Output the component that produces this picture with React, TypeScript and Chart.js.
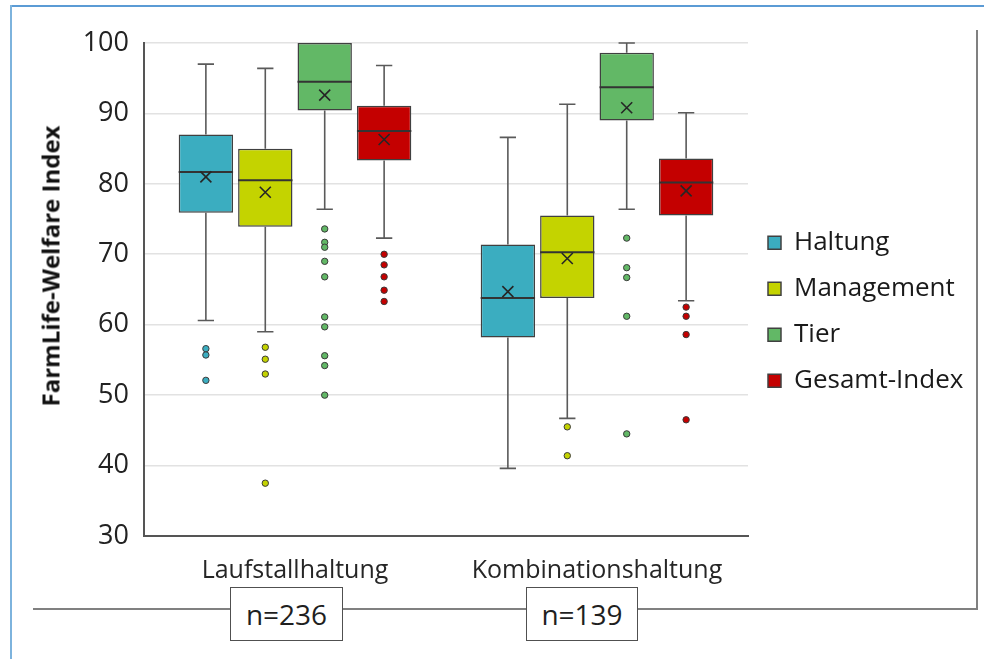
import React, { useEffect, useRef } from "react";
import { Chart, registerables } from "chart.js";

Chart.register(...registerables);

const categories = ["Laufstallhaltung", "Kombinationshaltung"];
const sampleSizes = ["n=236", "n=139"];
const seriesNames = ["Haltung", "Management", "Tier", "Gesamt-Index"];
const seriesColors = ["#3BADC0", "#C4D300", "#62B866", "#C40000"];
const yTicks = [30, 40, 50, 60, 70, 80, 90, 100];

const haltungMin = [60.6, 39.6];
const haltungQ1 = [75.9, 58.2];
const haltungMedian = [81.7, 63.8];
const haltungQ3 = [87.0, 71.4];
const haltungMax = [97.0, 86.6];
const haltungMean = [81.0, 64.7];
const haltungOutliers = [[56.6, 55.7, 52.1], []];

const managementMin = [59.0, 46.7];
const managementQ1 = [73.9, 63.8];
const managementMedian = [80.5, 70.3];
const managementQ3 = [85.0, 75.5];
const managementMax = [96.4, 91.3];
const managementMean = [78.8, 69.4];
const managementOutliers = [[56.8, 55.1, 53.0, 37.5], [45.5, 41.4]];

const tierMin = [76.4, 76.4];
const tierQ1 = [90.4, 89.0];
const tierMedian = [94.5, 93.7];
const tierQ3 = [100, 98.6];
const tierMax = [100, 100];
const tierMean = [92.6, 90.8];
const tierOutliers = [
  [73.6, 71.7, 71.0, 69.0, 66.8, 61.1, 59.7, 55.6, 54.2, 50.0],
  [72.3, 68.1, 66.7, 61.2, 44.5],
];

const gesamtMin = [72.3, 63.4];
const gesamtQ1 = [83.3, 75.5];
const gesamtMedian = [87.5, 80.2];
const gesamtQ3 = [91.1, 83.6];
const gesamtMax = [96.8, 90.1];
const gesamtMean = [86.3, 79.0];
const gesamtOutliers = [[70.0, 68.5, 66.8, 64.9, 63.3], [62.5, 61.2, 58.6, 46.5]];

const FONT = "'Open Sans', 'DejaVu Sans', sans-serif";

type BoxStats = {
  min: number[];
  q1: number[];
  median: number[];
  q3: number[];
  max: number[];
  mean: number[];
  outliers: number[][];
};

const stats: BoxStats[] = [
  { min: haltungMin, q1: haltungQ1, median: haltungMedian, q3: haltungQ3, max: haltungMax, mean: haltungMean, outliers: haltungOutliers },
  { min: managementMin, q1: managementQ1, median: managementMedian, q3: managementQ3, max: managementMax, mean: managementMean, outliers: managementOutliers },
  { min: tierMin, q1: tierQ1, median: tierMedian, q3: tierQ3, max: tierMax, mean: tierMean, outliers: tierOutliers },
  { min: gesamtMin, q1: gesamtQ1, median: gesamtMedian, q3: gesamtQ3, max: gesamtMax, mean: gesamtMean, outliers: gesamtOutliers },
];

const whiskerPlugin = {
  id: "boxWhiskers",
  beforeDatasetsDraw(chart: any) {
    const ctx = chart.ctx;
    const y = chart.scales.y;
    ctx.save();
    ctx.strokeStyle = "#5a5a5a";
    ctx.lineWidth = 1.6;
    stats.forEach((s, di) => {
      const meta = chart.getDatasetMeta(di);
      meta.data.forEach((bar: any, i: number) => {
        const x = bar.x;
        const cap = bar.width * 0.3;
        const segs = [
          [s.q3[i], s.max[i]],
          [s.q1[i], s.min[i]],
        ];
        segs.forEach(([from, to]) => {
          if (from === to) return;
          const p0 = y.getPixelForValue(from);
          const p1 = y.getPixelForValue(to);
          ctx.beginPath();
          ctx.moveTo(x, p0);
          ctx.lineTo(x, p1);
          ctx.moveTo(x - cap / 2, p1);
          ctx.lineTo(x + cap / 2, p1);
          ctx.stroke();
        });
      });
    });
    ctx.restore();
  },
  afterDatasetsDraw(chart: any) {
    const ctx = chart.ctx;
    const y = chart.scales.y;
    ctx.save();
    stats.forEach((s, di) => {
      const meta = chart.getDatasetMeta(di);
      meta.data.forEach((bar: any, i: number) => {
        const x = bar.x;
        const half = bar.width / 2;
        const pm = y.getPixelForValue(s.median[i]);
        ctx.strokeStyle = "#333333";
        ctx.lineWidth = 2;
        ctx.beginPath();
        ctx.moveTo(x - half, pm);
        ctx.lineTo(x + half, pm);
        ctx.stroke();
        const pmean = y.getPixelForValue(s.mean[i]);
        const r = 5.5;
        ctx.strokeStyle = "#262626";
        ctx.lineWidth = 1.6;
        ctx.beginPath();
        ctx.moveTo(x - r, pmean - r);
        ctx.lineTo(x + r, pmean + r);
        ctx.moveTo(x + r, pmean - r);
        ctx.lineTo(x - r, pmean + r);
        ctx.stroke();
        s.outliers[i].forEach((v) => {
          const py = y.getPixelForValue(v);
          ctx.beginPath();
          ctx.arc(x, py, 3.2, 0, Math.PI * 2);
          ctx.fillStyle = seriesColors[di];
          ctx.fill();
          ctx.strokeStyle = "#3a3a3a";
          ctx.lineWidth = 1;
          ctx.stroke();
        });
      });
    });
    ctx.restore();
  },
};

export default function App() {
  const canvasRef = useRef<HTMLCanvasElement | null>(null);

  useEffect(() => {
    const canvas = canvasRef.current;
    if (!canvas) return;
    const legendFontSize = 26;
    const legendPadding = 20;
    const mctx = canvas.getContext("2d")!;
    mctx.font = `${legendFontSize}px ${FONT}`;
    const maxText = Math.max(...seriesNames.map((n) => mctx.measureText(n).width));
    const legendWidth = legendPadding + 13 + legendFontSize / 2 + maxText + 10;
    const chartRight = 748;
    const rightPad = Math.max(0, 984 - chartRight - legendWidth);

    const chart = new Chart(canvas, {
      type: "bar",
      data: {
        labels: categories,
        datasets: seriesNames.map((name, di) => ({
          label: name,
          data: stats[di].q1.map((q1, i) => [q1, stats[di].q3[i]]),
          backgroundColor: seriesColors[di],
          borderColor: "#404040",
          borderWidth: 1.5,
          borderSkipped: false,
          categoryPercentage: 0.787,
          barPercentage: 0.915,
        })),
      },
      options: {
        responsive: false,
        animation: false,
        layout: { padding: { left: 0, top: 43, right: rightPad, bottom: 0 } },
        plugins: {
          tooltip: { enabled: false },
          legend: {
            position: "right",
            align: "center",
            fullSize: false,
            title: { display: true, text: " ", font: { size: 12 }, padding: { top: 15, bottom: 15 } },
            labels: {
              boxWidth: 13,
              boxHeight: 13,
              padding: legendPadding,
              color: "#1a1a1a",
              font: { size: legendFontSize, family: FONT },
            },
          },
        },
        scales: {
          x: {
            grid: { display: false, drawTicks: false },
            border: { display: true, color: "#555555", width: 2 },
            ticks: { color: "#262626", font: { size: 25, family: FONT }, padding: 20, maxRotation: 0 },
            afterFit(scale: any) {
              scale.height = 123;
            },
          },
          y: {
            min: 30,
            max: 100,
            grid: { color: "#e2e2e2", lineWidth: 1.6, drawTicks: false },
            border: { display: true, color: "#555555", width: 2 },
            ticks: {
              color: "#222222",
              font: { size: 27, family: FONT },
              padding: 15,
              stepSize: 10,
              callback: (v: any) => (yTicks.includes(Number(v)) ? String(v) : ""),
            },
            afterFit(scale: any) {
              scale.width = 144;
            },
          },
        },
      },
      plugins: [whiskerPlugin],
    } as any);
    return () => chart.destroy();
  }, []);

  const line = (style: React.CSSProperties) => (
    <div style={{ position: "absolute", ...style }} />
  );

  return (
    <div style={{ position: "absolute", left: 0, top: 0, width: 984, height: 659, background: "#ffffff", overflow: "hidden" }}>
      <canvas ref={canvasRef} width={984} height={659} style={{ position: "absolute", left: 0, top: 0, width: 984, height: 659 }} />
      {line({ left: 10, top: 5, width: 974, height: 2, background: "#5B9BD5" })}
      {line({ left: 10, top: 5, width: 2, height: 654, background: "#7DB3DD" })}
      {line({ left: 976, top: 30, width: 1.5, height: 579, background: "#808080" })}
      {line({ left: 33, top: 608, width: 944.5, height: 1.5, background: "#808080" })}
      <div
        style={{
          position: "absolute",
          left: 50,
          top: 266,
          transform: "translate(-50%, -50%) rotate(-90deg)",
          whiteSpace: "nowrap",
          font: `bold 24px ${FONT}`,
          color: "#111111",
        }}
      >
        FarmLife-Welfare Index
      </div>
      {sampleSizes.map((t, i) => (
        <div
          key={t}
          style={{
            position: "absolute",
            left: i === 0 ? 230 : 526,
            top: 587,
            width: i === 0 ? 113 : 112,
            height: 54,
            boxSizing: "border-box",
            border: "1.5px solid #505050",
            background: "#ffffff",
            display: "flex",
            alignItems: "center",
            justifyContent: "center",
            font: `28px ${FONT}`,
            color: "#1f1f1f",
          }}
        >
          {t}
        </div>
      ))}
    </div>
  );
}
